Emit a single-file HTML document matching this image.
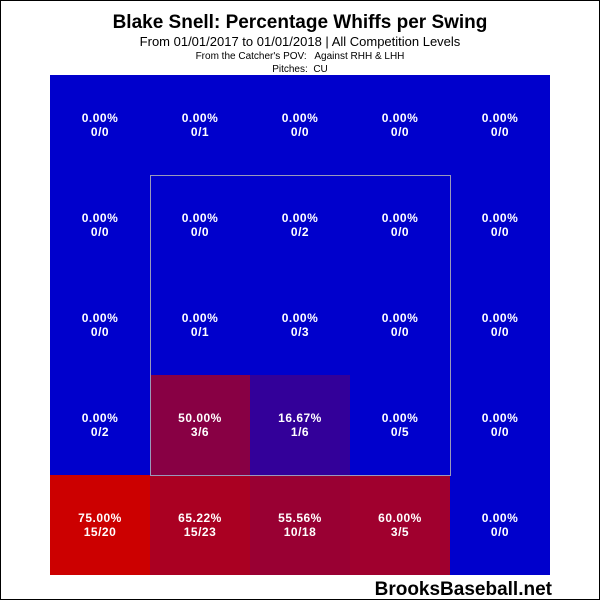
<!DOCTYPE html>
<html><head><style>body{margin:0;background:#fff}</style></head><body>
<svg width="600" height="600" xmlns="http://www.w3.org/2000/svg" font-family="Liberation Sans, Arial, sans-serif">
<rect x="0.5" y="0.5" width="599" height="599" fill="#fff" stroke="#000"/>
<text x="300" y="28" text-anchor="middle" font-size="19" font-weight="bold">Blake Snell: Percentage Whiffs per Swing</text>
<text x="300" y="46" text-anchor="middle" font-size="13">From 01/01/2017 to 01/01/2018 | All Competition Levels</text>
<text x="300" y="59" text-anchor="middle" font-size="10">From the Catcher's POV:&#160;&#160; Against RHH &amp; LHH</text>
<text x="300" y="72" text-anchor="middle" font-size="10">Pitches:&#160; CU</text>
<rect x="50" y="75" width="500" height="500" fill="#0000CC"/>
<rect x="150" y="375" width="100" height="100" fill="#880044"/>
<rect x="250" y="375" width="100" height="100" fill="#330099"/>
<rect x="50" y="475" width="100" height="100" fill="#CC0000"/>
<rect x="150" y="475" width="100" height="100" fill="#AA0022"/>
<rect x="250" y="475" width="100" height="100" fill="#990033"/>
<rect x="350" y="475" width="100" height="100" fill="#A0002E"/>
<rect x="150.5" y="175.5" width="300" height="300" fill="none" stroke="#9999bb" stroke-width="1"/>
<g fill="#fff" font-size="12" font-weight="bold" text-anchor="middle" letter-spacing="0.5">
<text x="100" y="122">0.00%</text><text x="100" y="136">0/0</text>
<text x="200" y="122">0.00%</text><text x="200" y="136">0/1</text>
<text x="300" y="122">0.00%</text><text x="300" y="136">0/0</text>
<text x="400" y="122">0.00%</text><text x="400" y="136">0/0</text>
<text x="500" y="122">0.00%</text><text x="500" y="136">0/0</text>
<text x="100" y="222">0.00%</text><text x="100" y="236">0/0</text>
<text x="200" y="222">0.00%</text><text x="200" y="236">0/0</text>
<text x="300" y="222">0.00%</text><text x="300" y="236">0/2</text>
<text x="400" y="222">0.00%</text><text x="400" y="236">0/0</text>
<text x="500" y="222">0.00%</text><text x="500" y="236">0/0</text>
<text x="100" y="322">0.00%</text><text x="100" y="336">0/0</text>
<text x="200" y="322">0.00%</text><text x="200" y="336">0/1</text>
<text x="300" y="322">0.00%</text><text x="300" y="336">0/3</text>
<text x="400" y="322">0.00%</text><text x="400" y="336">0/0</text>
<text x="500" y="322">0.00%</text><text x="500" y="336">0/0</text>
<text x="100" y="422">0.00%</text><text x="100" y="436">0/2</text>
<text x="200" y="422">50.00%</text><text x="200" y="436">3/6</text>
<text x="300" y="422">16.67%</text><text x="300" y="436">1/6</text>
<text x="400" y="422">0.00%</text><text x="400" y="436">0/5</text>
<text x="500" y="422">0.00%</text><text x="500" y="436">0/0</text>
<text x="100" y="522">75.00%</text><text x="100" y="536">15/20</text>
<text x="200" y="522">65.22%</text><text x="200" y="536">15/23</text>
<text x="300" y="522">55.56%</text><text x="300" y="536">10/18</text>
<text x="400" y="522">60.00%</text><text x="400" y="536">3/5</text>
<text x="500" y="522">0.00%</text><text x="500" y="536">0/0</text>
</g>
<text x="552" y="595" text-anchor="end" font-size="19" font-weight="bold">BrooksBaseball.net</text>
</svg>
</body></html>
